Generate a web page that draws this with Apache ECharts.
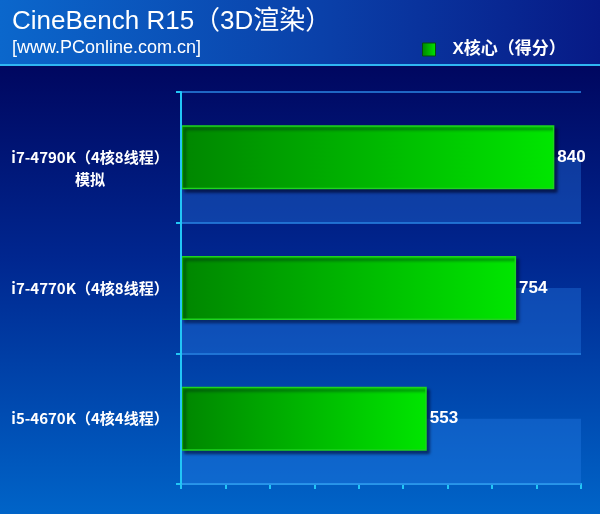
<!DOCTYPE html>
<html>
<head>
<meta charset="utf-8">
<script src="https://cdn.jsdelivr.net/npm/echarts@6/dist/echarts.min.js"></script>
<style>
html,body{margin:0;padding:0;background:#000a66;}
#c{width:600px;height:514px;}
</style>
</head>
<body>
<div id="c"></div>
<script>
// ---- data ----
var categories = ['i7-4790K（4核8线程）\n模拟', 'i7-4770K（4核8线程）', 'i5-4670K（4核4线程）'];
var scores = [840, 754, 553];
var seriesName = 'X核心（得分）';
var titleText = 'CineBench R15（3D渲染）';
var subText = '[www.PConline.com.cn]';
var axisMin = 0, axisMax = 900, axisStep = 100;

// lower-half shading bands (3D floor look), derived from categories
var shadeCats = [], shadeVals = [];
categories.forEach(function (c, i) {
  shadeCats.push('u' + i); shadeVals.push(null);
  shadeCats.push('l' + i); shadeVals.push(axisMax);
});

var chart = echarts.init(document.getElementById('c'));
var font = '"Liberation Sans", Arial, "Noto Sans CJK SC", sans-serif';
chart.setOption({
  animation: false,
  backgroundColor: {
    type: 'linear', x: 0, y: 0, x2: 0, y2: 1,
    colorStops: [
      {offset: 0, color: '#000760'},
      {offset: 0.13, color: '#000760'},
      {offset: 0.5, color: '#00268f'},
      {offset: 1, color: '#0064c8'}
    ]
  },
  graphic: [
    {type: 'rect', left: 0, top: 0, shape: {width: 600, height: 64}, silent: true, z: -1,
      style: {fill: {type: 'linear', x: 0, y: 0, x2: 1, y2: 0,
        colorStops: [{offset: 0, color: '#0b67cc'}, {offset: 0.55, color: '#0a3fa8'}, {offset: 1, color: '#071a86'}]}}},
    {type: 'rect', left: 0, top: 64, shape: {width: 600, height: 2}, silent: true, z: -1,
      style: {fill: '#2fb6f2'}}
  ],
  title: [
    {text: titleText, left: 12, top: 9, padding: 0,
      textStyle: {color: '#fff', fontSize: 26, fontWeight: 'normal', fontFamily: font}},
    {text: subText, left: 12, top: 39, padding: 0,
      textStyle: {color: '#fff', fontSize: 18, fontWeight: 'normal', fontFamily: font}}
  ],
  legend: {
    data: [seriesName], left: 422, top: 41, padding: 0,
    icon: 'rect', itemWidth: 13, itemHeight: 13,
    itemStyle: {borderColor: '#064a10', borderWidth: 1},
    textStyle: {color: '#fff', fontSize: 17, fontWeight: 'bold', fontFamily: font, padding: [0, 0, 0, 12]}
  },
  grid: {left: 181, right: 19, top: 92, bottom: 30, containLabel: false},
  xAxis: [{
    type: 'value', min: axisMin, max: axisMax, interval: axisStep,
    axisLine: {show: true, lineStyle: {color: '#22c6f6', width: 2}},
    axisTick: {show: true, length: 5, lineStyle: {color: '#22c6f6', width: 2}},
    axisLabel: {show: false},
    splitLine: {show: false}
  }],
  yAxis: [{
    type: 'category', data: categories, inverse: true,
    axisLine: {show: true, lineStyle: {color: '#22c6f6', width: 2}},
    axisTick: {show: true, length: 5, lineStyle: {color: '#22c6f6', width: 2}},
    splitLine: {show: true, lineStyle: {color: '#2a86e4', width: 1.5}},
    axisLabel: {
      color: '#fff', fontSize: 15, fontWeight: 'bold', lineHeight: 22, align: 'center', margin: 91,
      fontFamily: '"Noto Sans CJK SC", sans-serif',
      formatter: function (v) { return v.indexOf('\n') >= 0 ? '\n' + v : v; }
    },
    z: 5
  }, {
    type: 'category', data: shadeCats, inverse: true, show: false
  }],
  series: [{
    name: 'shade', type: 'bar', yAxisIndex: 1, data: shadeVals,
    barWidth: '100%', silent: true, z: 1,
    itemStyle: {color: 'rgba(40,130,235,0.34)'},
    emphasis: {disabled: true}
  }, {
    name: seriesName, type: 'bar', data: scores, yAxisIndex: 0, barWidth: '49%', z: 3,
    itemStyle: {
      color: {type: 'linear', x: 0, y: 0, x2: 1, y2: 0,
        colorStops: [{offset: 0, color: '#008600'}, {offset: 1, color: '#00e600'}]},
      borderColor: '#1fd41f', borderWidth: 1.5,
      shadowColor: 'rgba(0,0,30,0.6)', shadowBlur: 3, shadowOffsetX: 3, shadowOffsetY: 3
    },
    label: {show: true, position: 'right', distance: 3, color: '#fff', fontSize: 17, fontWeight: 'bold', fontFamily: font}
  }]
});
</script>
</body>
</html>
